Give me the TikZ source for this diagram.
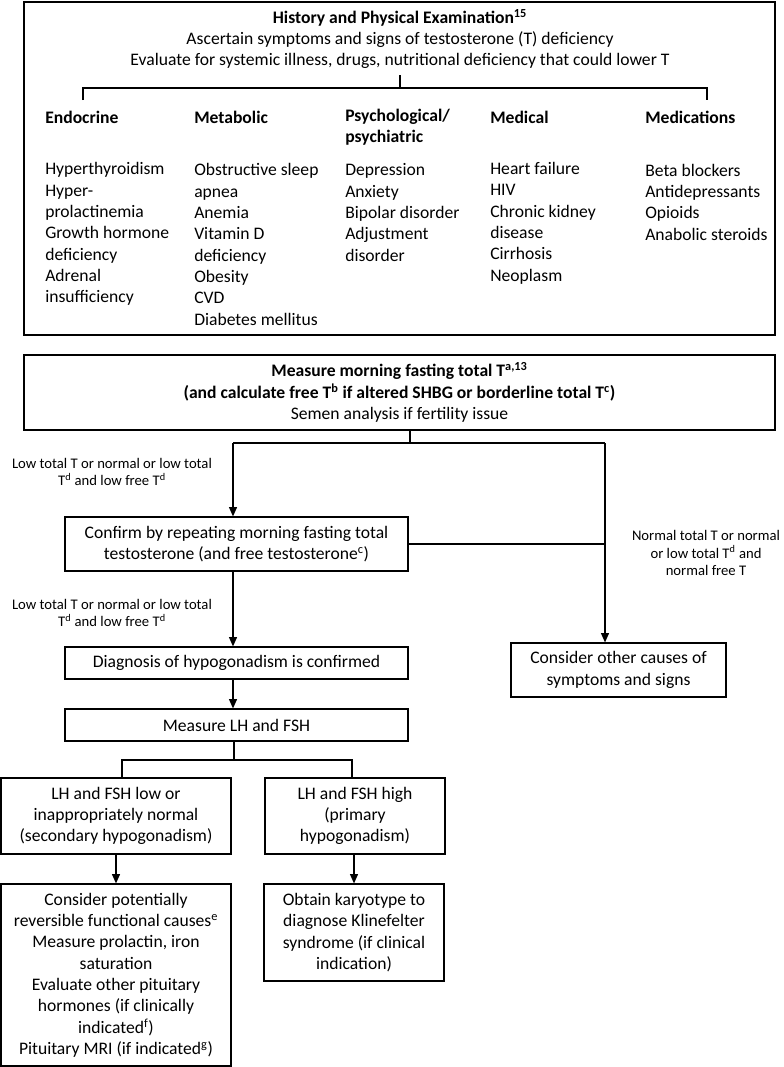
\documentclass[tikz,border=0pt]{standalone}
\usepackage{fontspec}
\setmainfont{Carlito}
\usetikzlibrary{arrows.meta}
\begin{document}
\begin{tikzpicture}[x=0.75pt,y=-0.75pt,
  box/.style={draw, line width=0.9pt, align=center, inner sep=0pt, font=\fontsize{13.2}{16}\selectfont},
  txt/.style={align=center, inner sep=0pt, font=\fontsize{13.2}{16}\selectfont},
  col/.style={align=left, anchor=west, inner sep=0pt, font=\fontsize{13.2}{16}\selectfont},
  colh/.style={col, font=\fontsize{13.2}{16}\selectfont\bfseries},
  lab/.style={align=center, inner sep=0pt, font=\fontsize{11}{13.3}\selectfont},
  conn/.style={line width=0.9pt},
  arr/.style={conn, -{Triangle[length=7pt,width=6pt]}}]
\useasboundingbox (0,0) rectangle (784,1067);

% top box
\node[box, minimum width=563.25pt, minimum height=249.75pt] (hpe) at (399.5,168.5) {};
\node[txt] (hdr) at (400,39) {\textbf{History and Physical Examination\textsuperscript{15}}\\Ascertain symptoms and signs of testosterone (T) deficiency\\Evaluate for systemic illness, drugs, nutritional deficiency that could lower T};
\coordinate (hb) at (400,75);
\coordinate (hm) at (400,88);
\coordinate (hl) at (83,100);
\coordinate (hr) at (707,100);
\draw[conn] (hb) -- (hm);
\draw[conn] (hl) |- (hm) -| (hr);

\node[colh] (c1h) at (45,117) {Endocrine};
\node[colh] (c2h) at (194,117) {Metabolic};
\node[colh] (c3h) at (345,127) {Psychological/\\psychiatric};
\node[colh] (c4h) at (490,117) {Medical};
\node[colh] (c5h) at (645,117) {Medications};
\node[col] (c1) at (45,234) {Hyperthyroidism\\Hyper-\\prolactinemia\\Growth hormone\\deficiency\\Adrenal\\insufficiency};
\node[col] (c2) at (194,244.5) {Obstructive sleep\\apnea\\Anemia\\Vitamin D\\deficiency\\Obesity\\CVD\\Diabetes mellitus};
\node[col] (c3) at (345,212.5) {Depression\\Anxiety\\Bipolar disorder\\Adjustment\\disorder};
\node[col] (c4) at (490,223) {Heart failure\\HIV\\Chronic kidney\\disease\\Cirrhosis\\Neoplasm};
\node[col] (c5) at (645,202) {Beta blockers\\Antidepressants\\Opioids\\Anabolic steroids};

% measure box
\node[box, minimum width=563.25pt, minimum height=56.25pt] (meas) at (399.5,392.5) {\textbf{Measure morning fasting total T\textsuperscript{a,13}}\\\textbf{(and calculate free T\textsuperscript{b} if altered SHBG or borderline total T\textsuperscript{c})}\\Semen analysis if fertility issue};

\node[box, minimum width=257.25pt, minimum height=40.5pt] (confirm) at (236.5,544) {Confirm by repeating morning fasting total\\testosterone (and free testosterone\textsuperscript{c})};
\node[box, minimum width=257.25pt, minimum height=24pt] (diag) at (236.5,663) {Diagnosis of hypogonadism is confirmed};
\node[box, minimum width=161.25pt, minimum height=40.5pt] (other) at (618.5,670) {Consider other causes of\\symptoms and signs};
\node[box, minimum width=257.25pt, minimum height=24pt] (lhfsh) at (236.5,725) {Measure LH and FSH};
\node[box, minimum width=172.5pt, minimum height=57pt] (low) at (116,816) {LH and FSH low or\\inappropriately normal\\(secondary hypogonadism)};
\node[box, minimum width=135pt, minimum height=57pt] (high) at (355,816) {LH and FSH high\\(primary\\hypogonadism)};
\node[box, minimum width=172.5pt, minimum height=136.5pt] (func) at (116,975) {Consider potentially\\reversible functional causes\textsuperscript{e}\\Measure prolactin, iron\\saturation\\Evaluate other pituitary\\hormones (if clinically\\indicated\textsuperscript{f})\\Pituitary MRI (if indicated\textsuperscript{g})};
\node[box, minimum width=135pt, minimum height=72.75pt] (karyo) at (354,932.5) {Obtain karyotype to\\diagnose Klinefelter\\syndrome (if clinical\\indication)};

% labels
\node[lab] (l1) at (112,472) {Low total T or normal or low total\\T\textsuperscript{d} and low free T\textsuperscript{d}};
\node[lab] (l2) at (112,613) {Low total T or normal or low total\\T\textsuperscript{d} and low free T\textsuperscript{d}};
\node[lab] (l3) at (706,553) {Normal total T or normal\\or low total T\textsuperscript{d} and\\normal free T};

% connectors
\coordinate (split) at (410,443);
\coordinate (splitL) at (233,443);
\coordinate (splitR) at (605,443);
\draw[conn] (meas.south -| split) -- (split);
\draw[conn] (splitL) -- (splitR);
\draw[arr] (splitL) -- (splitL |- confirm.north);
\draw[arr] (splitR) -- (splitR |- other.north);
\draw[conn] (confirm.east) -- (confirm.east -| splitR);
\draw[arr] (confirm.south -| splitL) -- (splitL |- diag.north);
\draw[arr] (diag.south -| splitL) -- (splitL |- lhfsh.north);
\coordinate (split2) at (234,760);
\coordinate (s2L) at (122,760);
\coordinate (s2R) at (352,760);
\draw[conn] (lhfsh.south -| split2) -- (split2);
\draw[conn] (s2L |- low.north) -- (s2L) -- (s2R) -- (s2R |- high.north);
\draw[arr] (low.south) -- (func.north);
\draw[arr] (high.south -| karyo.north) -- (karyo.north);
\end{tikzpicture}
\end{document}
